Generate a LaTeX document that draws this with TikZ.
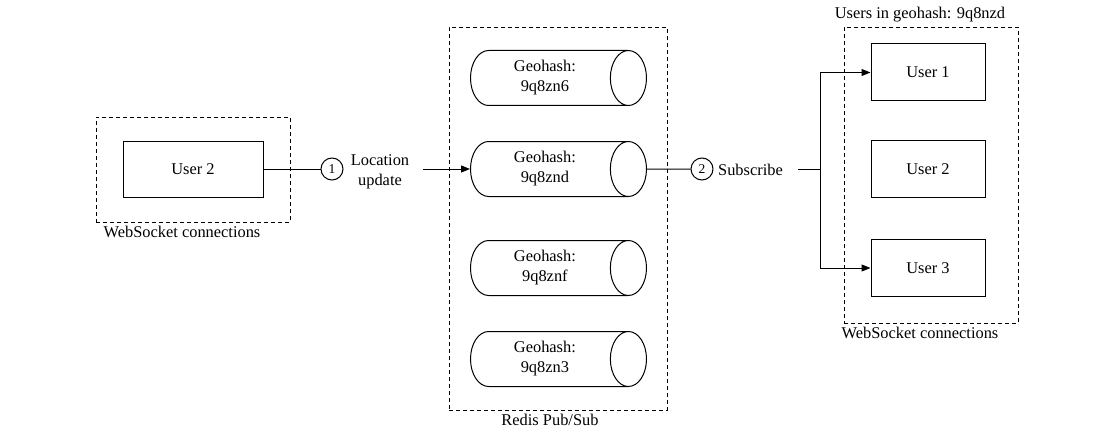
\documentclass[tikz,border=0pt]{standalone}
\usepackage{fontspec}
\setmainfont{Liberation Serif}
\usetikzlibrary{shapes.geometric, arrows.meta}
\tikzstyle{user} = [rectangle, minimum width=140pt, minimum height=56pt, text centered, draw=black, line width=1pt]
\tikzstyle{channel} = [cylinder, shape aspect=0.87, minimum width=55pt, minimum height=176pt, align=center, draw=black, line width=1pt]
\tikzstyle{group} = [rectangle, draw=black, dash pattern=on 4pt off 3pt, line width=0.9pt]
\tikzstyle{stepnum} = [circle, draw=black, line width=1pt, minimum size=22pt, inner sep=0pt, font=\fontsize{13.5}{13.5}\selectfont]
\tikzstyle{line} = [line width=1pt]
\tikzstyle{arrow} = [line width=1pt, -{Triangle[length=9pt,width=7pt]}]

\begin{document}
\begin{tikzpicture}[x=1pt, y=-1pt, font=\fontsize{16.4}{20}\selectfont]
		\useasboundingbox (0,0) rectangle (1104,436);
		% sender
		\node [group, minimum width=194pt, minimum height=105pt] 	(wsleft) 	at (193,169.5) {};
		\node [anchor=north, xshift=-11pt] 							(wslefttxt) at (wsleft.south) {WebSocket connections};
		\node [user] 												(senduser) 	at (193,169) {User 2};
		\node [stepnum] 											(step1) 	at (332,169) {1};
		\node [align=center, inner xsep=14pt] 						(locupd) 	at (380,172) {Location\\update};

		% redis channels
		\node [group, minimum width=218pt, minimum height=383pt] 	(redis) 	at (558,218.5) {};
		\node [anchor=north, xshift=-8pt] 							(redistxt) 	at (redis.south) {Redis Pub/Sub};
		\node [channel, anchor=shape center] 						(geo1) 		at (558.5,78) {Geohash:\\9q8zn6};
		\node [channel, below of=geo1, node distance=91pt] 			(geo2) 		{Geohash:\\9q8znd};
		\node [channel, below of=geo2, node distance=99pt] 			(geo3) 		{Geohash:\\9q8znf};
		\node [channel, below of=geo3, node distance=91pt] 			(geo4) 		{Geohash:\\9q8zn3};

		% receivers
		\node [stepnum] 											(step2) 	at (702,169) {2};
		\node [inner xsep=15pt] 									(subscr) 	at (750.5,170) {Subscribe};
		\coordinate 												(split) 	at (820,169);
		\node [group, minimum width=174pt, minimum height=296pt] 	(wsright) 	at (931,175) {};
		\node [anchor=south, xshift=-11pt, yshift=1pt] 				(geotitle) 	at (wsright.north) {Users in geohash: 9q8nzd};
		\node [anchor=north, xshift=-11pt] 							(wsrighttxt) at (wsright.south) {WebSocket connections};
		\node [user, minimum width=114pt, minimum height=57pt] 		(rcv1) 		at (928,72.5) {User 1};
		\node [user, minimum width=114pt, minimum height=57pt, below of=rcv1, node distance=96.5pt] (rcv2) {User 2};
		\node [user, minimum width=114pt, minimum height=57pt, below of=rcv2, node distance=99pt] 	(rcv3) {User 3};

		\draw [line] (senduser) -- (step1);
		\draw [arrow] (locupd.east |- geo2) -- (geo2);
		\draw [line] (geo2) -- (step2);
		\draw [line] (subscr.east |- split) -- (split);
		\draw [arrow] (split) |- (rcv1);
		\draw [arrow] (split) |- (rcv3);
	\end{tikzpicture}
\end{document}
